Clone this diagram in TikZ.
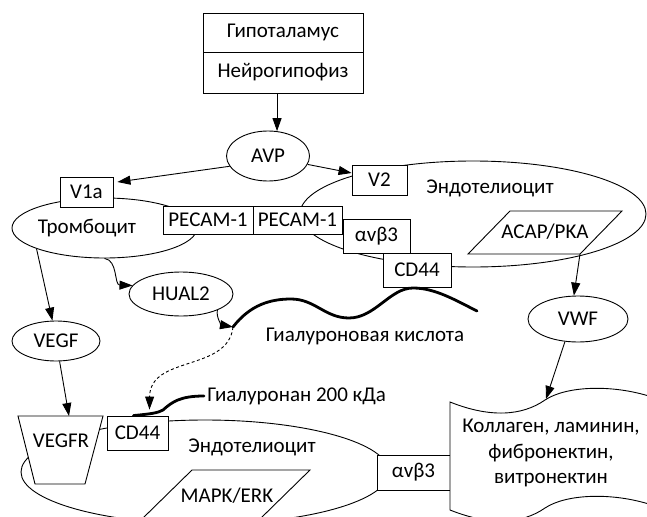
\documentclass[tikz,border=0pt]{standalone}
\usepackage{fontspec}
\setmainfont{Carlito}
\usetikzlibrary{positioning}
\usetikzlibrary{arrows.meta}
\usetikzlibrary{shapes.geometric}
\tikzset{cellbox/.style = {draw, fill=white, inner sep=0}}
\tikzset{cell/.style = {draw, ellipse, fill=white, inner sep=0}}
\tikzset{arr/.style = {-{Triangle[length=13pt,width=9pt]}}}
\tikzset{hyal/.style = {line width=2.8pt, line cap=round}}
\tikzset{every picture/.style={
    line width=0.9pt,
}}

\begin{document}
\begin{tikzpicture}[x=1pt, y=-1pt, font=\fontsize{21}{25}\selectfont]
      \path[use as bounding box] (0,0) rectangle (647,516);
      \clip (0,0) rectangle (647,516);
      % hypothalamus and AVP
      \node[cellbox, minimum width=160pt, minimum height=39pt] (hypo) at (283,32.5) {Гипоталамус};
      \node[cellbox, minimum width=160pt, minimum height=41pt] (neuro) at (283,72.5) {Нейрогипофиз};
      \node[cell, minimum width=83pt, minimum height=50pt] (avp) at (268,156) {AVP};
      % upper cells
      \node[cell, minimum width=346pt, minimum height=106pt] (endoA) at (473,214) {};
      \node (endoAtxt) at (490,188) {Эндотелиоцит};
      \node[cell, minimum width=185pt, minimum height=60pt] (plt) at (104.5,228) {};
      \node (plttxt) at (87,228) {Тромбоцит};
      \node[cellbox, minimum width=53pt, minimum height=30pt] (v1a) at (86.5,192) {V1a};
      \node[cellbox, minimum width=55pt, minimum height=30pt] (v2) at (379.5,180) {V2};
      \node[cellbox, minimum width=90pt, minimum height=28pt] (pecamA) at (208,220) {PECAM-1};
      \node[cellbox, minimum width=89pt, minimum height=28pt] (pecamB) at (297.5,220) {PECAM-1};
      \node[cellbox, minimum width=67pt, minimum height=34pt] (avbA) at (376.5,236) {αvβ3};
      \node[cellbox, minimum width=68pt, minimum height=34pt] (cdA) at (417,270) {CD44};
      \draw[fill=white] (468,254) -- (510,211) -- (622,211) -- (580,254) -- cycle;
      \coordinate (acapcorner) at (580,254);
      \node (acap) at (545,232) {ACAP/PKA};
      % middle
      \node[cell, minimum width=104pt, minimum height=44pt] (hual) at (181,294) {HUAL2};
      \node[cell, minimum width=88pt, minimum height=40pt] (vegf) at (56,341) {VEGF};
      \node[cell, minimum width=100pt, minimum height=46pt] (vwf) at (578,319) {VWF};
      \draw[hyal] (233,327) .. controls (250,305) and (270,299) .. (291,299)
            .. controls (315,299) and (325,318) .. (349,318)
            .. controls (375,318) and (390,288) .. (413,288)
            .. controls (435,288) and (455,300) .. (477,311);
      \coordinate (hastart) at (233,327);
      \node (hatxt) at (365,336) {Гиалуроновая кислота};
      % lower cell
      \node[cell, minimum width=368pt, minimum height=104pt] (endoB) at (205,472) {};
      \node (endoBtxt) at (252,447) {Эндотелиоцит};
      \draw[fill=white] (18,416) -- (103,416) -- (85,484) -- (35,484) -- cycle;
      \coordinate (vegfrtop) at (69,416);
      \node (vegfr) at (61,441) {VEGFR};
      \node[cellbox, minimum width=61pt, minimum height=34pt] (cdB) at (137.5,433) {CD44};
      \draw[fill=white] (143,518) -- (192,470) -- (310,470) -- (261,518) -- cycle;
      \node (mapk) at (227,496) {MAPK/ERK};
      \node[cellbox, minimum width=73pt, minimum height=35pt] (avbB) at (413.5,472.5) {αvβ3};
      \draw[fill=white] (450,402) .. controls (490,418) and (522,416) .. (545,400)
            .. controls (566,386) and (612,384) .. (652,397) -- (652,505)
            .. controls (612,492) and (566,494) .. (545,508)
            .. controls (522,524) and (490,526) .. (450,510) -- cycle;
      \coordinate (ecmtop) at (546,399);
      \node[align=center, font=\fontsize{21}{25.5}\selectfont] (ecm) at (551,453) {Коллаген, ламинин,\\фибронектин,\\витронектин};
      \node[anchor=west, inner sep=3pt] (ha200) at (204,396) {Гиалуронан 200 кДа};
      \draw[hyal] ([xshift=-4pt]cdB.north) .. controls (150,414) and (158,413) .. (163,410)
            .. controls (172,402) and (180,396) .. (ha200.west);
      % arrows
      \draw[arr] (neuro.south -| avp.70) -- (avp.70);
      \draw[arr] (avp.195) -- ([xshift=4pt,yshift=10pt]v1a.east);
      \draw[arr] (avp.-12) -- ([yshift=7pt]v2.west);
      \draw[arr] (plt.south) .. controls (118,260) and (114,285) .. (hual.170);
      \draw[arr] (plt.197) -- (vegf.100);
      \draw[arr] (vegf.-80) -- (vegfrtop);
      \draw[arr] (hual.-24) .. controls (216,318) and (222,325) .. (hastart);
      \draw[arr, dash pattern=on 3pt off 2.5pt] (hastart) .. controls (228,372) and (150,355) .. ([xshift=12pt,yshift=6pt]cdB.north);
      \draw[arr] (acapcorner) -- (vwf.100);
      \draw[arr] (vwf.240) -- (ecmtop);
\end{tikzpicture}
\end{document}
